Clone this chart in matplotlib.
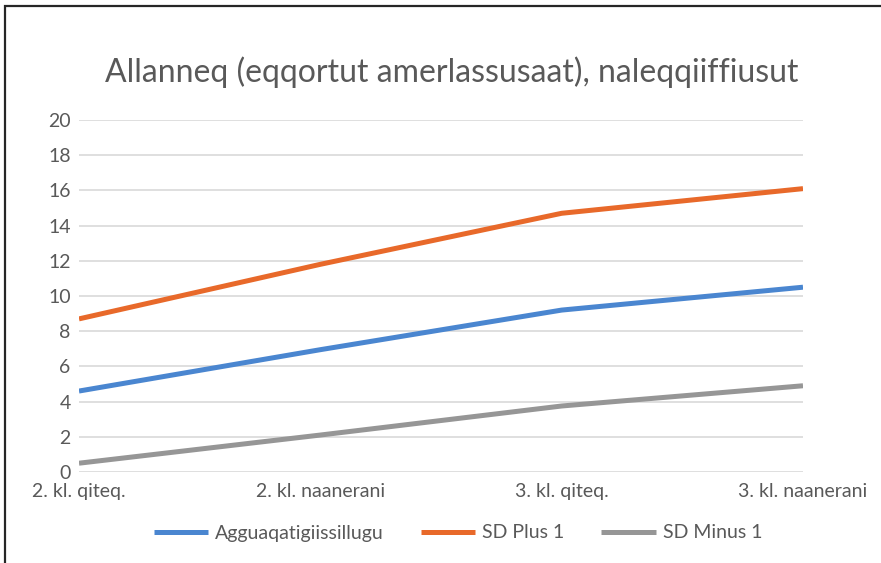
import matplotlib
matplotlib.use("Agg")
import matplotlib.pyplot as plt
from matplotlib.patches import Rectangle

categories = ["2. kl. qiteq.", "2. kl. naanerani", "3. kl. qiteq.", "3. kl. naanerani"]
mean_vals = [4.6, 6.95, 9.2, 10.5]
sd_plus = [8.7, 11.8, 14.7, 16.1]
sd_minus = [0.5, 2.1, 3.75, 4.9]

series = [
    ("Agguaqatigiissillugu", mean_vals, "#4A86D0"),
    ("SD Plus 1", sd_plus, "#E8692A"),
    ("SD Minus 1", sd_minus, "#969696"),
]

plt.rcParams["font.family"] = ["Lato", "DejaVu Sans"]
text_col = "#595959"

fig = plt.figure(figsize=(8.81, 5.63), dpi=100)
ax = fig.add_axes([79 / 881, 1 - 472 / 563, (803 - 79) / 881, (472 - 120) / 563])

x = list(range(len(categories)))
for label, vals, col in series:
    ax.plot(x, vals, color=col, linewidth=3.6, label=label, solid_capstyle="butt")

ax.set_xlim(0, len(categories) - 1)
ax.set_ylim(0, 20)
ax.set_yticks(range(0, 21, 2))
ax.set_xticks(x)
ax.set_xticklabels(categories)
ax.grid(axis="y", color="#D9D9D9", linewidth=1.2)
ax.set_axisbelow(True)
for s in ax.spines.values():
    s.set_visible(False)
ax.tick_params(length=0, labelsize=14, colors=text_col)
ax.tick_params(axis="x", pad=8)
ax.tick_params(axis="y", pad=6)

fig.text(452 / 881, 1 - 72 / 563, "Allanneq (eqqortut amerlassusaat), naleqqiiffiusut",
         ha="center", va="center", fontsize=23, color=text_col)

fig.legend(loc="center", bbox_to_anchor=(458 / 881, 1 - 533 / 563), ncol=3, frameon=False,
           fontsize=14, handlelength=2.8, columnspacing=1.9, handletextpad=0.35,
           labelcolor=text_col)

# outer chart border
fig.patches.append(Rectangle((5 / 881, -0.1), 1.2, 1.1 - 6 / 563,
                             transform=fig.transFigure, fill=False,
                             edgecolor="#262626", linewidth=1.6))

fig.savefig("out.png", dpi=100)
